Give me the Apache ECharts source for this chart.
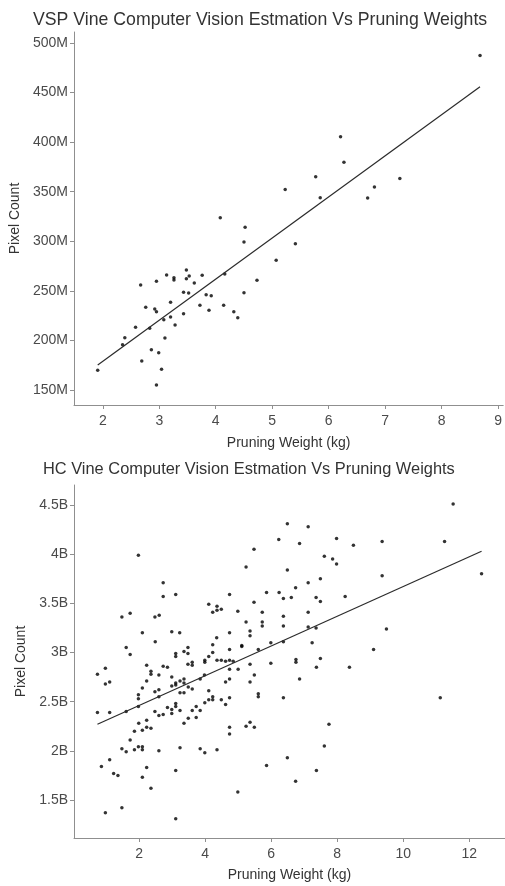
<!DOCTYPE html>
<html>
<head>
<meta charset="utf-8">
<title>Vine Computer Vision Estmation Vs Pruning Weights</title>
<script src="https://cdn.jsdelivr.net/npm/echarts@6/dist/echarts.min.js"></script>
<style>
html, body { margin: 0; padding: 0; background: #fff; }
#vine-chart { width: 505px; height: 886px; }
</style>
</head>
<body>
<div id="vine-chart"></div>
<script>
// VSP vines: pruning weight (kg) vs pixel count (millions)
var vspWeight = [2.67, 2.95, 3.13, 3.26, 3.26, 3.48, 3.48, 3.53, 3.62, 3.76,
    4.08, 4.16, 4.52, 4.50, 4.73, 5.07, 3.43, 3.52, 3.83, 3.92,
    4.50, 2.76, 2.92, 2.95, 3.20, 3.72, 3.88, 4.14, 4.32, 4.39,
    3.20, 3.08, 3.43, 3.28, 2.58, 2.83, 2.39, 2.35, 3.10, 2.86,
    2.99, 2.69, 3.04, 1.91, 2.95, 8.68, 6.21, 6.27, 5.77, 7.26,
    6.81, 5.23, 5.85, 6.69, 5.41];
var vspPixels = [255.9, 259.6, 266.0, 263.2, 260.9, 271.0, 262.2, 265.0, 257.9, 265.7,
    323.7, 267.1, 314.1, 299.3, 260.6, 280.8, 248.5, 247.8, 246.1, 245.1,
    248.1, 233.4, 231.7, 229.0, 238.4, 235.4, 230.4, 235.4, 229.0, 222.9,
    223.6, 220.9, 226.9, 215.5, 213.2, 212.2, 202.7, 195.7, 202.4, 190.6,
    187.6, 179.2, 170.9, 169.9, 155.0, 487.4, 405.4, 379.6, 365.0, 363.4,
    354.6, 352.3, 343.8, 343.5, 297.6];
// fitted line, read at both ends
var vspFitWeight = [1.91, 8.68];
var vspFitPixels = [175.2, 455.8];
var vspXTicks = [2, 3, 4, 5, 6, 7, 8, 9];
var vspYTicks = [150, 200, 250, 300, 350, 400, 450, 500];

// HC vines: pruning weight (kg) vs pixel count (billions)
var hcWeight = [1.98, 2.73, 2.73, 3.11, 4.74, 4.11, 4.36, 4.23, 4.36, 4.49,
    4.99, 1.48, 1.73, 2.48, 2.61, 2.10, 2.99, 3.23, 4.35, 4.74,
    4.23, 2.49, 1.61, 1.73, 3.11, 3.11, 3.36, 3.48, 3.48, 4.23,
    4.74, 4.11,
    3.99, 3.99, 4.36, 4.49, 4.62, 4.74, 4.85, 3.48, 3.61, 3.61,
    0.74, 0.98, 0.98, 1.11, 0.74, 1.11, 1.61, 1.98, 1.98, 1.98,
    2.10, 2.23, 2.36, 2.36, 2.23, 2.48, 2.60, 2.60, 2.60, 2.73,
    2.86, 2.99, 2.99, 3.11, 3.11, 3.24, 3.36, 3.36, 3.24, 3.36,
    3.49, 3.61, 3.85, 3.98, 4.11, 4.23, 4.23, 4.11, 3.99, 4.49,
    4.62, 4.74, 4.74, 5.00, 4.62, 4.74, 2.48, 2.60, 2.73, 2.86,
    2.99, 2.99, 3.11, 3.11, 3.24, 3.36, 3.49, 3.61, 3.73, 3.85,
    3.73, 1.99, 2.23, 2.23, 2.36, 1.86, 2.10, 1.73, 1.48, 1.61,
    1.86, 1.98, 2.10, 2.10, 2.60, 3.24, 3.85, 3.99, 4.36, 4.74,
    4.74, 1.11, 0.86, 1.23, 1.36, 2.23, 3.11, 2.10, 2.36, 0.98,
    1.48, 3.11, 4.99,
    6.49, 7.12, 6.23, 7.98, 6.86, 8.49, 5.48, 7.61, 7.86, 7.98,
    5.24, 6.49, 7.49, 7.12, 6.74, 5.86, 6.24, 6.37, 6.61, 7.36,
    7.49, 8.24, 5.48, 5.73, 7.12, 6.37, 5.24, 5.73, 5.73, 6.37,
    7.12, 7.36, 5.36, 5.36, 5.99, 6.37, 7.24, 5.11, 5.11, 5.61,
    9.10, 6.75, 7.49, 6.75, 5.99, 5.36, 7.37, 8.37, 5.49, 5.36,
    6.86, 5.61, 5.61, 6.37, 5.36, 5.24, 5.49, 7.75, 7.61, 6.49,
    5.86, 7.37, 6.74,
    11.51, 9.36, 11.25, 9.36, 12.37, 9.49, 11.12];
var hcPixels = [3.99, 3.71, 3.57, 3.59, 3.59, 3.49, 3.47, 3.41, 3.43, 3.44,
    3.42, 3.36, 3.40, 3.36, 3.38, 3.20, 3.21, 3.20, 3.15, 3.20,
    3.08, 3.11, 3.05, 2.98, 2.99, 2.96, 3.01, 3.05, 2.99, 3.00,
    3.03, 2.96,
    2.92, 2.90, 2.92, 2.92, 2.91, 2.92, 2.91, 2.88, 2.90, 2.87,
    2.78, 2.84, 2.68, 2.70, 2.39, 2.39, 2.40, 2.45, 2.57, 2.53,
    2.64, 2.87, 2.81, 2.78, 2.71, 2.60, 2.77, 2.62, 2.55, 2.86,
    2.85, 2.75, 2.66, 2.69, 2.67, 2.71, 2.73, 2.69, 2.59, 2.59,
    2.65, 2.63, 2.73, 2.77, 2.61, 2.55, 2.52, 2.52, 2.49, 2.52,
    2.70, 2.73, 2.83, 2.83, 2.47, 2.54, 2.40, 2.36, 2.37, 2.44,
    2.42, 2.38, 2.48, 2.45, 2.41, 2.28, 2.33, 2.41, 2.45, 2.41,
    2.34, 2.28, 2.31, 2.24, 2.23, 2.20, 2.21, 2.11, 2.02, 1.99,
    2.01, 2.04, 2.04, 2.01, 2.00, 2.03, 2.02, 1.98, 2.01, 2.24,
    2.17, 1.91, 1.84, 1.77, 1.75, 1.83, 1.80, 1.73, 1.62, 1.37,
    1.42, 1.31, 1.58,
    4.31, 4.28, 4.15, 4.16, 4.11, 4.09, 4.05, 3.98, 3.95, 3.90,
    3.87, 3.84, 3.75, 3.71, 3.66, 3.61, 3.61, 3.55, 3.56, 3.56,
    3.52, 3.57, 3.51, 3.41, 3.41, 3.37, 3.31, 3.31, 3.27, 3.27,
    3.26, 3.25, 3.22, 3.17, 3.10, 3.11, 3.10, 3.07, 3.06, 3.03,
    3.03, 2.93, 2.94, 2.90, 2.89, 2.88, 2.85, 2.85, 2.77, 2.70,
    2.73, 2.58, 2.55, 2.54, 2.29, 2.25, 2.24, 2.27, 2.05, 1.93,
    1.85, 1.80, 1.69,
    4.51, 4.13, 4.13, 3.78, 3.80, 3.24, 2.54];
var hcFitWeight = [0.74, 12.37];
var hcFitPixels = [2.27, 4.03];
var hcXTicks = [2, 4, 6, 8, 10, 12];
var hcYTicks = [1.5, 2, 2.5, 3, 3.5, 4, 4.5];

function toPairs(xs, ys) {
    var out = [];
    for (var i = 0; i < xs.length; i++) {
        out.push([xs[i], ys[i]]);
    }
    return out;
}

var axisGray = '#8f8f8f';
var textGray = '#4a4a4a';
var fontName = 'Liberation Sans, Arial, sans-serif';

function valueAxis(opt) {
    return {
        type: 'value',
        gridIndex: opt.grid,
        min: opt.min,
        max: opt.max,
        name: opt.name,
        nameLocation: 'middle',
        nameGap: opt.nameGap,
        nameRotate: opt.rotate || 0,
        nameTextStyle: { color: '#333', fontSize: 14, fontFamily: fontName },
        axisLine: { show: true, onZero: false, lineStyle: { color: axisGray, width: 1 } },
        axisTick: { show: true, inside: false, length: 4, customValues: opt.ticks, lineStyle: { color: axisGray } },
        axisLabel: {
            customValues: opt.ticks,
            margin: opt.margin,
            color: textGray,
            fontSize: 14,
            fontFamily: fontName,
            formatter: opt.formatter
        },
        splitLine: { show: false }
    };
}

// 初始化图表
var vineChart = echarts.init(document.getElementById('vine-chart'));

var option = {
    backgroundColor: '#fff',
    animation: false,
    title: [
        {
            text: 'VSP Vine Computer Vision Estmation Vs Pruning Weights',
            left: 28,
            top: 6,
            textStyle: { color: '#333', fontSize: 17.7, fontWeight: 'normal', fontFamily: fontName }
        },
        {
            text: 'HC Vine Computer Vision Estmation Vs Pruning Weights',
            left: 38,
            top: 456,
            textStyle: { color: '#333', fontSize: 16.4, fontWeight: 'normal', fontFamily: fontName }
        }
    ],
    grid: [
        { left: 74, top: 32, width: 431, height: 373 },
        { left: 74, top: 485, width: 431, height: 353 }
    ],
    xAxis: [
        valueAxis({ grid: 0, min: 1.49, max: 9.09, name: 'Pruning Weight (kg)', nameGap: 31,
            ticks: vspXTicks, margin: 9 }),
        valueAxis({ grid: 1, min: 0.03, max: 13.08, name: 'Pruning Weight (kg)', nameGap: 30,
            ticks: hcXTicks, margin: 9 })
    ],
    yAxis: [
        valueAxis({ grid: 0, min: 134.9, max: 511, name: 'Pixel Count', nameGap: 52, rotate: 90,
            ticks: vspYTicks, margin: 6, formatter: function (v) { return v + 'M'; } }),
        valueAxis({ grid: 1, min: 1.113, max: 4.704, name: 'Pixel Count', nameGap: 44, rotate: 90,
            ticks: hcYTicks, margin: 6, formatter: function (v) { return v + 'B'; } })
    ],
    series: [
        {
            name: 'VSP',
            type: 'scatter',
            xAxisIndex: 0,
            yAxisIndex: 0,
            symbolSize: 3.5,
            itemStyle: { color: '#000' },
            data: toPairs(vspWeight, vspPixels)
        },
        {
            name: 'VSP fit',
            type: 'line',
            xAxisIndex: 0,
            yAxisIndex: 0,
            symbol: 'none',
            silent: true,
            lineStyle: { color: '#2b2b2b', width: 1.2 },
            data: toPairs(vspFitWeight, vspFitPixels)
        },
        {
            name: 'HC',
            type: 'scatter',
            xAxisIndex: 1,
            yAxisIndex: 1,
            symbolSize: 3.5,
            itemStyle: { color: '#000' },
            data: toPairs(hcWeight, hcPixels)
        },
        {
            name: 'HC fit',
            type: 'line',
            xAxisIndex: 1,
            yAxisIndex: 1,
            symbol: 'none',
            silent: true,
            lineStyle: { color: '#2b2b2b', width: 1.2 },
            data: toPairs(hcFitWeight, hcFitPixels)
        }
    ]
};

vineChart.setOption(option);
</script>
</body>
</html>
